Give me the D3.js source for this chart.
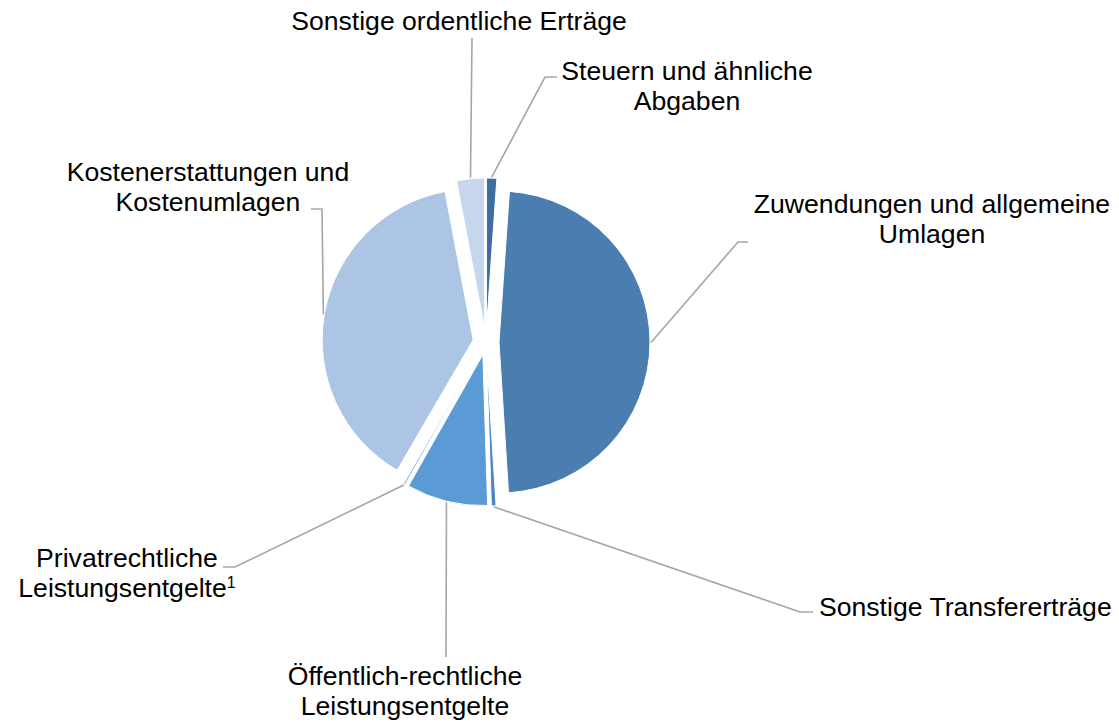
<!DOCTYPE html>
<html>
<head>
<meta charset="utf-8">
<script src="https://cdn.jsdelivr.net/npm/d3@7"></script>
<style>
  body { margin: 0; background: #fff; }
  svg { font-family: "Liberation Sans", Arial, sans-serif; }
</style>
</head>
<body>
<div id="main"></div>
<script>
// Kategorien und Anteile (in %), im Uhrzeigersinn ab 12 Uhr
var categories = [
  "Steuern und ähnliche Abgaben",
  "Zuwendungen und allgemeine Umlagen",
  "Sonstige Transfererträge",
  "Öffentlich-rechtliche Leistungsentgelte",
  "Privatrechtliche Leistungsentgelte",
  "Kostenerstattungen und Kostenumlagen",
  "Sonstige ordentliche Erträge"
];
var values = [1.1, 47.9, 0.5, 8.7, 0.2, 38.6, 3.0];
var colors = ["#3e6e9f", "#4a7eb1", "#4a86c4", "#5b9bd5", "#7fb0e0", "#adc5e5", "#c6d7ed"];

// Beschriftungen (Zeilen) je Kategorie
var labelLines = [
  ["Steuern und ähnliche", "Abgaben"],
  ["Zuwendungen und allgemeine", "Umlagen"],
  ["Sonstige Transfererträge"],
  ["Öffentlich-rechtliche", "Leistungsentgelte"],
  ["Privatrechtliche", "Leistungsentgelte"],
  ["Kostenerstattungen und", "Kostenumlagen"],
  ["Sonstige ordentliche Erträge"]
];

// Layout der Beschriftungen: Textposition und Knickpunkte der Führungslinie
var labelLayout = [
  { x: 687, y: 80,  anchor: "middle", elbow: [[545, 77], [557, 77]] },
  { x: 932, y: 213, anchor: "middle", elbow: [[738, 242], [748, 242]] },
  { x: 819, y: 616, anchor: "start",  elbow: [[800, 612], [813, 612]] },
  { x: 405, y: 685, anchor: "middle", elbow: [[446, 657]] },
  { x: 127, y: 567, anchor: "middle", elbow: [[235, 567], [223, 567]], sup: "1" },
  { x: 208, y: 181, anchor: "middle", elbow: [[322, 209], [311, 209]] },
  { x: 459, y: 30,  anchor: "middle", elbow: [[472, 38]] }
];

var width = 1119, height = 724;
var cx = 486, cy = 342;
var radius = 151;
var explode = 13;
var lineHeight = 30;

var svg = d3.select("#main").append("svg")
  .attr("width", width)
  .attr("height", height);

var pie = d3.pie().sort(null).value(function(d) { return d; });
var arcs = pie(values);

var arc = d3.arc().innerRadius(0).outerRadius(radius);

// Verschiebung eines Segments entlang seiner Winkelhalbierenden
function offset(d, r) {
  var a = (d.startAngle + d.endAngle) / 2;
  return [Math.sin(a) * r, -Math.cos(a) * r];
}

var g = svg.append("g").attr("transform", "translate(" + cx + "," + cy + ")");

g.selectAll("path.slice")
  .data(arcs)
  .enter().append("path")
  .attr("class", "slice")
  .attr("d", arc)
  .attr("transform", function(d) {
    var o = offset(d, explode);
    return "translate(" + o[0] + "," + o[1] + ")";
  })
  .attr("fill", function(d, i) { return colors[i]; })
  .attr("stroke", "#fff")
  .attr("stroke-width", 1);

// Führungslinien
var line = d3.line();
arcs.forEach(function(d, i) {
  var o = offset(d, explode);
  var rim = offset(d, radius + 1);
  var p0 = [cx + o[0] + rim[0], cy + o[1] + rim[1]];
  var pts = [p0].concat(labelLayout[i].elbow);
  svg.append("path")
    .attr("d", line(pts))
    .attr("fill", "none")
    .attr("stroke", "#a6a6a6")
    .attr("stroke-width", 1.6);
});

// Beschriftungen
labelLines.forEach(function(lines, i) {
  var lay = labelLayout[i];
  var text = svg.append("text")
    .attr("x", lay.x)
    .attr("y", lay.y)
    .attr("text-anchor", lay.anchor)
    .attr("font-size", "26.6px")
    .attr("fill", "#000");
  lines.forEach(function(l, j) {
    var ts = text.append("tspan")
      .attr("x", lay.x)
      .attr("y", lay.y + j * lineHeight)
      .text(l);
    if (lay.sup && j === lines.length - 1) {
      ts.append("tspan")
        .attr("font-size", "16px")
        .attr("dy", -9)
        .text(lay.sup);
    }
  });
});
</script>
</body>
</html>
